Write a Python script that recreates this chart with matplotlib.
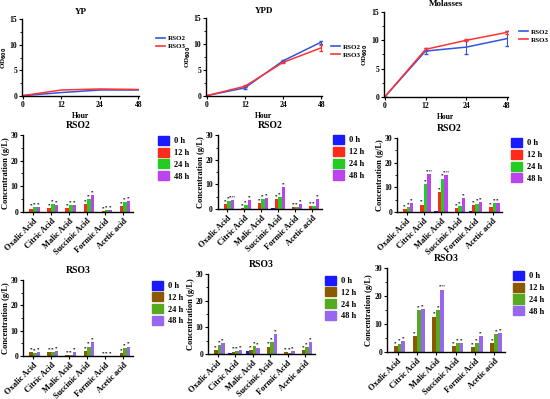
import matplotlib
matplotlib.use('Agg')
import matplotlib.pyplot as plt
from matplotlib.patches import Patch
from matplotlib.lines import Line2D
from matplotlib.ticker import MultipleLocator
import numpy as np

plt.rcParams['font.family'] = ['Liberation Serif', 'DejaVu Serif']
plt.rcParams['font.weight'] = 'bold'
plt.rcParams['axes.labelweight'] = 'bold'
plt.rcParams['axes.titleweight'] = 'bold'

# ---------------- data ----------------
hours = ['0', '12', '24', '48']
media = ['YP', 'YPD', 'Molasses']

yp_rso2 = [0.1, 0.7, 1.2, 1.2]
yp_rso3 = [0.1, 1.2, 1.4, 1.3]
ypd_rso2 = [0.1, 1.6, 6.8, 10.4]
ypd_rso3 = [0.1, 1.9, 6.5, 9.3]
mol_rso2 = [0.0, 8.1, 8.8, 10.3]
mol_rso3 = [0.0, 8.4, 10.0, 11.4]
ypd_rso2_err = [0.0, 0.2, 0.2, 0.3]
ypd_rso3_err = [0.0, 0.2, 0.2, 0.6]
mol_rso2_err = [0.0, 0.6, 1.2, 1.3]
mol_rso3_err = [0.0, 0.3, 0.2, 0.3]

acids = ['Oxalic Acid', 'Citric Acid', 'Malic Acid', 'Succinic Acid', 'Formic Acid', 'Acetic acid']
times = ['0 h', '12 h', '24 h', '48 h']

# values per acid: [0h, 12h, 24h, 48h]
rso2_yp = [[0.05, 1.3, 1.9, 1.8], [0.05, 1.4, 3.0, 2.7], [0.05, 1.4, 2.7, 2.6],
           [0.05, 3.2, 5.0, 6.5], [0.05, 0.4, 0.8, 0.8], [0.05, 2.2, 3.9, 4.4]]
rso2_ypd = [[0.05, 2.0, 3.2, 3.6], [0.05, 0.5, 1.8, 3.6], [0.05, 2.6, 3.9, 4.6],
            [0.3, 4.2, 5.0, 9.0], [0.05, 0.9, 0.7, 2.0], [0.05, 1.3, 1.3, 4.0]]
rso2_mol = [[0.05, 1.1, 1.9, 3.8], [0.05, 3.0, 11.3, 15.4], [0.2, 8.2, 13.6, 15.0],
            [0.05, 1.5, 2.5, 5.7], [0.5, 2.7, 3.4, 4.1], [0.05, 1.9, 3.8, 3.8]]
rso3_yp = [[0.05, 1.7, 1.3, 1.6], [0.05, 1.4, 1.6, 1.8], [0.05, 0.4, 0.4, 1.7],
           [0.05, 2.0, 3.7, 5.4], [0.05, 0.1, 0.1, 0.1], [0.05, 1.0, 3.0, 3.7]]
rso3_ypd = [[0.05, 1.5, 3.4, 4.0], [0.5, 0.9, 1.1, 1.5], [1.0, 1.5, 2.9, 2.4],
            [0.05, 2.8, 4.6, 7.4], [0.05, 0.6, 0.5, 1.2], [0.05, 1.5, 2.5, 4.4]]
rso3_mol = [[0.05, 2.1, 3.0, 3.8], [0.05, 5.8, 15.0, 15.3], [0.05, 12.6, 15.0, 22.3],
            [0.05, 2.0, 3.2, 3.3], [0.05, 1.8, 3.1, 5.8], [0.05, 3.3, 6.4, 6.8]]

rso2_colors = ['#1a1aff', '#ff2a1a', '#22cc22', '#bb44ee']
rso3_colors = ['#1a1aff', '#8b5a00', '#55aa22', '#9966ee']
blue_line = '#3355dd'
red_line = '#ff3333'

fig = plt.figure(figsize=(5.5, 3.99), dpi=100)

def style(ax):
    for s in ['top', 'right']:
        ax.spines[s].set_visible(False)
    for s in ['left', 'bottom']:
        ax.spines[s].set_linewidth(1.0)
    ax.tick_params(axis='both', labelsize=5.5, width=0.8, length=2.5, pad=1)
    ax.tick_params(which='minor', width=0.6, length=1.5)

# ---------------- row 1: growth curves ----------------
line_pos = [[0.040, 0.759, 0.213, 0.193],
            [0.3745, 0.759, 0.211, 0.1955],
            [0.698, 0.757, 0.2255, 0.213]]
line_data = [(yp_rso2, yp_rso3, None, None),
             (ypd_rso2, ypd_rso3, ypd_rso2_err, ypd_rso3_err),
             (mol_rso2, mol_rso3, mol_rso2_err, mol_rso3_err)]
legend_pos = [(1.12, 0.7), (1.05, 0.58), (1.07, 0.72)]
for i, (pos, (a, b, ea, eb)) in enumerate(zip(line_pos, line_data)):
    ax = fig.add_axes(pos)
    x = np.arange(len(hours))
    ax.errorbar(x, a, yerr=ea, color=blue_line, lw=1.1, capsize=1.5, elinewidth=0.8)
    ax.errorbar(x, b, yerr=eb, color=red_line, lw=1.1, capsize=1.5, elinewidth=0.8)
    ax.set_xlim(-0.02, 3.02)
    ax.set_ylim(0, 15)
    ax.set_xticks(x)
    ax.set_xticklabels(hours)
    ax.set_yticks([0, 5, 10, 15])
    ax.yaxis.set_minor_locator(MultipleLocator(2.5))
    style(ax)
    ax.set_title(media[i], fontsize=6.5, pad=4)
    ax.set_xlabel('Hour', fontsize=5.5, labelpad=2)
    ax.set_ylabel('OD$_{\\mathbf{600}}$', fontsize=5)
    ax.yaxis.set_label_coords(-0.11, 0.5)
    handles = [Line2D([], [], color=blue_line, lw=1.2), Line2D([], [], color=red_line, lw=1.2)]
    ax.legend(handles, ['RSO2', 'RSO3'], loc='center left', bbox_to_anchor=legend_pos[i],
              frameon=False, fontsize=5, handlelength=1.3, handletextpad=0.4,
              labelspacing=0.3, borderaxespad=0)

# ---------------- rows 2 & 3: organic acids ----------------
bar_pos = [[0.042, 0.4687, 0.200, 0.193],
           [0.396, 0.476, 0.189, 0.185],
           [0.722, 0.4687, 0.191, 0.185],
           [0.042, 0.1078, 0.200, 0.190],
           [0.378, 0.1128, 0.1945, 0.2005],
           [0.7036, 0.1178, 0.2145, 0.2105]]
bar_leg_x = [1.2, 1.08, 1.05, 1.14, 1.065, 1.04]
bar_data = [rso2_yp, rso2_ypd, rso2_mol, rso3_yp, rso3_ypd, rso3_mol]
bar_titles = ['RSO2', 'RSO2', 'RSO2', 'RSO3', 'RSO3', 'RSO3']
big_stars = {(2, 1, 3), (2, 2, 3), (5, 2, 3), (1, 0, 3)}
for p, (pos, data) in enumerate(zip(bar_pos, bar_data)):
    ax = fig.add_axes(pos)
    colors = rso2_colors if p < 3 else rso3_colors
    arr = np.array(data)
    x = np.arange(len(acids))
    w = 0.2
    for t in range(len(times)):
        xs = x + (t - 1.5) * w
        ax.bar(xs, arr[:, t], width=w, color=colors[t], edgecolor='none')
        if t > 0:
            for g in range(len(acids)):
                s = '****' if (p, g, t) in big_stars else '**'
                ax.text(xs[g], arr[g, t] + 0.3, s, fontsize=2.5, ha='center',
                        va='bottom', color='#333333')
    ax.set_xlim(-0.55, 5.55)
    ax.set_ylim(0, 30)
    ax.set_yticks([0, 10, 20, 30])
    ax.yaxis.set_minor_locator(MultipleLocator(5))
    ax.set_xticks(x)
    ax.set_xticklabels(acids, rotation=45, ha='right', rotation_mode='anchor')
    style(ax)
    ax.tick_params(axis='x', labelsize=6)
    ax.set_title(bar_titles[p], fontsize=7, pad=5)
    ax.set_ylabel('Concentration (g/L)', fontsize=6)
    ax.yaxis.set_label_coords(-0.12, 0.5)
    handles = [Patch(color=c) for c in colors]
    ax.legend(handles, times, loc='center left', bbox_to_anchor=(bar_leg_x[p], 0.7),
              frameon=False, fontsize=6, handlelength=1.3, handleheight=1.3,
              handletextpad=0.6, labelspacing=0.3, borderaxespad=0)

fig.savefig('out.png', dpi=100)
